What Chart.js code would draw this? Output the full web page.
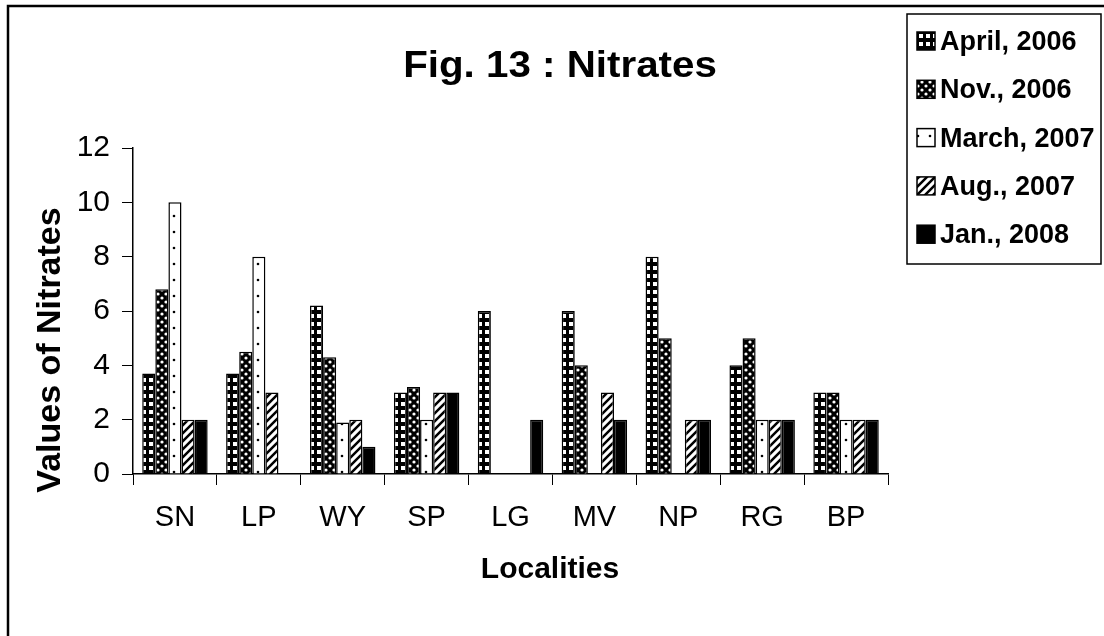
<!DOCTYPE html>
<html>
<head>
<meta charset="utf-8">
<script src="https://cdn.jsdelivr.net/npm/chart.js@4/dist/chart.umd.min.js"></script>
<style>
    html, body { margin: 0; padding: 0; background: #fff; }
    #chart { display: block; }
</style>
</head>
<body>
<canvas id="chart" width="1104" height="636"></canvas>
<script>
// Data
const localities = ['SN', 'LP', 'WY', 'SP', 'LG', 'MV', 'NP', 'RG', 'BP'];
const seriesLabels = ['April, 2006', 'Nov., 2006', 'March, 2007', 'Aug., 2007', 'Jan., 2008'];
const april2006 = [3.7, 3.7, 6.2, 3.0, 6.0, 6.0, 8.0, 4.0, 3.0];
const nov2006 = [6.8, 4.5, 4.3, 3.2, 0, 4.0, 5.0, 5.0, 3.0];
const march2007 = [10, 8, 1.9, 2, 0, 0, 0, 2, 2];
const aug2007 = [2, 3, 2, 3, 0, 3, 2, 2, 2];
const jan2008 = [2, 0, 1, 3, 2, 2, 2, 2, 2];
const yTicks = [0, 2, 4, 6, 8, 10, 12];

const FONT = "'Liberation Sans', Arial, Helvetica, sans-serif";

// Fill patterns (black & white print style)
function makePattern(w, h, draw) {
    const c = document.createElement('canvas');
    c.width = w;
    c.height = h;
    const g = c.getContext('2d');
    draw(g, w, h);
    return g.createPattern(c, 'repeat');
}

const patSquares = makePattern(7, 8, (g, w, h) => {
    g.fillStyle = '#000';
    g.fillRect(0, 0, w, h);
    g.fillStyle = '#fff';
    g.fillRect(2, 2, 4, 4);
});

const patDots = makePattern(8, 8, (g, w, h) => {
    g.fillStyle = '#000';
    g.fillRect(0, 0, w, h);
    g.fillStyle = '#fff';
    g.beginPath(); g.arc(2, 2, 1.6, 0, Math.PI * 2); g.fill();
    g.beginPath(); g.arc(6, 6, 1.6, 0, Math.PI * 2); g.fill();
});

const patSparse = makePattern(12, 16, (g, w, h) => {
    g.fillStyle = '#fff';
    g.fillRect(0, 0, w, h);
    g.fillStyle = '#000';
    g.beginPath(); g.arc(6, 8, 1.3, 0, Math.PI * 2); g.fill();
});

const patHatch = makePattern(8, 8, (g, w, h) => {
    g.fillStyle = '#fff';
    g.fillRect(0, 0, w, h);
    g.strokeStyle = '#000';
    g.lineWidth = 2.5;
    g.beginPath();
    g.moveTo(0, 8); g.lineTo(8, 0);
    g.moveTo(-4, 4); g.lineTo(4, -4);
    g.moveTo(4, 12); g.lineTo(12, 4);
    g.stroke();
});

const fills = [patSquares, patDots, patSparse, patHatch, '#000'];
const seriesData = [april2006, nov2006, march2007, aug2007, jan2008];

// Titles, frame and legend box
const decorPlugin = {
    id: 'decor',
    afterDraw(chart) {
        const ctx = chart.ctx;
        ctx.save();

        // outer frame (top + left visible)
        ctx.strokeStyle = '#000';
        ctx.lineWidth = 2.5;
        ctx.beginPath();
        ctx.moveTo(8, 636);
        ctx.lineTo(8, 6);
        ctx.lineTo(1104, 6);
        ctx.stroke();

        ctx.fillStyle = '#000';
        ctx.textBaseline = 'alphabetic';
        ctx.textAlign = 'center';

        // chart title (scan is a bit wider than tall)
        ctx.save();
        ctx.translate(560, 77);
        ctx.scale(1.12, 1);
        ctx.font = `bold 36px ${FONT}`;
        ctx.fillText('Fig. 13 : Nitrates', 0, 0);
        ctx.restore();

        // x axis title
        ctx.font = `bold 30px ${FONT}`;
        ctx.fillText('Localities', 550, 578);

        // y axis title
        ctx.save();
        ctx.translate(60, 350);
        ctx.rotate(-Math.PI / 2);
        ctx.font = `bold 34px ${FONT}`;
        ctx.fillText('Values of Nitrates', 0, 0);
        ctx.restore();

        // legend
        ctx.lineWidth = 1.5;
        ctx.strokeRect(907, 14, 194, 250);
        ctx.font = `bold 27px ${FONT}`;
        ctx.textAlign = 'left';
        seriesLabels.forEach((label, i) => {
            const base = 50 + i * 48.3;
            ctx.fillStyle = fills[i];
            ctx.fillRect(917, base - 18, 18, 18);
            ctx.strokeStyle = '#000';
            ctx.strokeRect(917, base - 18, 18, 18);
            ctx.fillStyle = '#000';
            ctx.fillText(label, 940, base);
        });

        ctx.restore();
    }
};

const ctx = document.getElementById('chart').getContext('2d');

new Chart(ctx, {
    type: 'bar',
    data: {
        labels: localities,
        datasets: seriesData.map((vals, i) => ({
            label: seriesLabels[i],
            data: vals,
            backgroundColor: fills[i],
            borderColor: '#000',
            borderWidth: 1.5,
            categoryPercentage: 0.78,
            barPercentage: 1.0
        }))
    },
    options: {
        responsive: false,
        animation: false,
        layout: {
            padding: { left: 20, right: 216, top: 148, bottom: 92 }
        },
        plugins: {
            legend: { display: false },
            title: { display: false },
            tooltip: { enabled: false }
        },
        scales: {
            x: {
                afterFit: (scale) => { scale.height = 70; },
                border: { display: true, color: '#000', width: 1.5 },
                grid: {
                    display: true,
                    offset: true,
                    drawOnChartArea: false,
                    drawTicks: true,
                    tickLength: 11,
                    color: '#000',
                    lineWidth: 1
                },
                ticks: {
                    color: '#000',
                    padding: 16,
                    font: { family: FONT, size: 29 }
                }
            },
            y: {
                min: 0,
                max: 12,
                afterFit: (scale) => { scale.width = 113; },
                afterBuildTicks: (scale) => {
                    scale.ticks = yTicks.map(v => ({ value: v }));
                },
                border: { display: true, color: '#000', width: 1.5 },
                grid: {
                    display: true,
                    drawOnChartArea: false,
                    drawTicks: true,
                    tickLength: 11,
                    color: '#000',
                    lineWidth: 1
                },
                ticks: {
                    color: '#000',
                    padding: 12,
                    font: { family: FONT, size: 30 }
                }
            }
        }
    },
    plugins: [decorPlugin]
});
</script>
</body>
</html>
